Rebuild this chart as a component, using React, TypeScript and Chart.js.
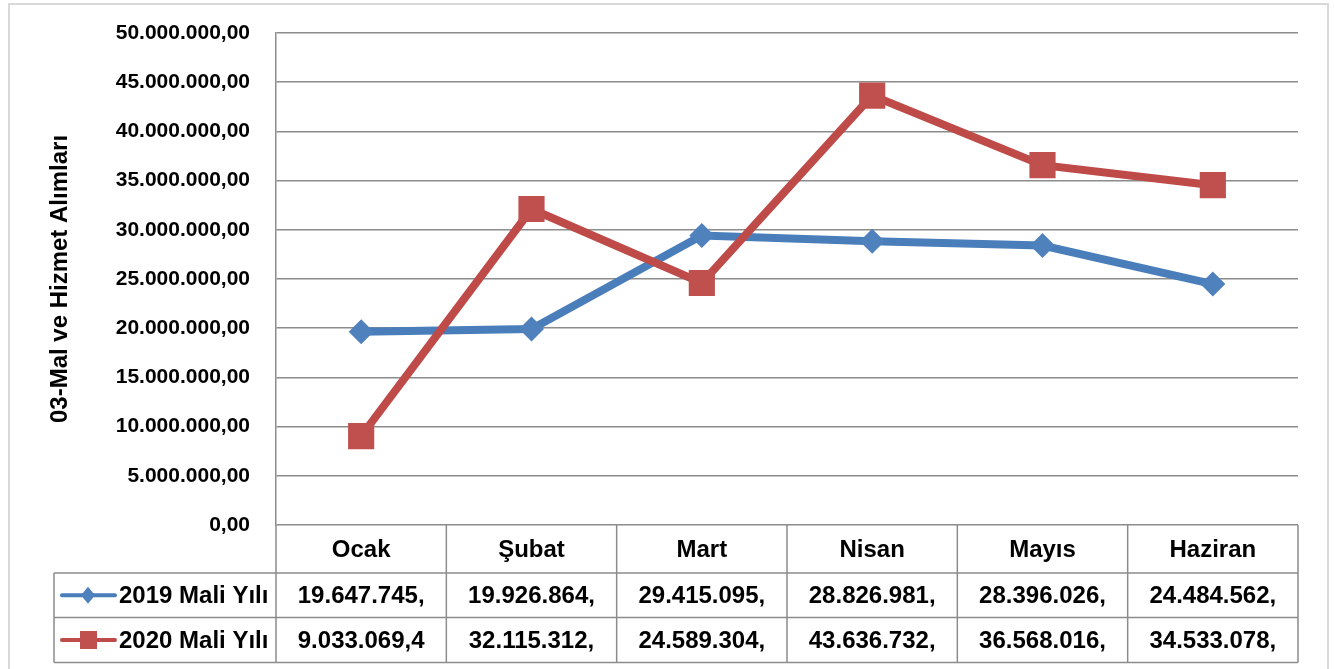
import React, { useEffect, useRef } from "react";
import { Chart, registerables } from "chart.js";

Chart.register(...registerables);

const categories = ["Ocak", "Şubat", "Mart", "Nisan", "Mayıs", "Haziran"];
const series2019Name = "2019 Mali Yılı";
const series2020Name = "2020 Mali Yılı";
const values2019 = [19647745, 19926864, 29415095, 28826981, 28396026, 24484562];
const values2020 = [9033069.4, 32115312, 24589304, 43636732, 36568016, 34533078];
const table2019 = ["19.647.745,", "19.926.864,", "29.415.095,", "28.826.981,", "28.396.026,", "24.484.562,"];
const table2020 = ["9.033.069,4", "32.115.312,", "24.589.304,", "43.636.732,", "36.568.016,", "34.533.078,"];
const yTitle = "03-Mal ve Hizmet Alımları";
const yMin = 0;
const yMax = 50000000;
const yStep = 5000000;

const BLUE = "#4A7EBB";
const BLUE_M = "#4F81BD";
const RED = "#BE4B48";
const RED_M = "#C0504D";
const GRID = "#8C8C8C";
const FONT = "'Liberation Sans', Arial, sans-serif";

function formatTick(v: number): string {
  const s = Math.round(v).toString().replace(/\B(?=(\d{3})+(?!\d))/g, ".");
  return s + ",00";
}

const tablePlugin = {
  id: "dataTable",
  afterDraw(chart: any) {
    const ctx = chart.ctx as CanvasRenderingContext2D;
    const area = chart.chartArea;
    const xs = chart.scales.x;
    const n = categories.length;
    const colW = (area.right - area.left) / n;
    const headTop = area.bottom;
    const headBot = headTop + 48;
    const row1Bot = headBot + 44.5;
    const row2Bot = row1Bot + 45;
    const legLeft = 54;

    ctx.save();
    ctx.strokeStyle = GRID;
    ctx.lineWidth = 1.5;
    ctx.beginPath();
    [headBot, row1Bot, row2Bot].forEach((y) => {
      ctx.moveTo(legLeft, y);
      ctx.lineTo(area.right, y);
    });
    for (let i = 0; i <= n; i++) {
      const x = area.left + i * colW;
      ctx.moveTo(x, headTop);
      ctx.lineTo(x, row2Bot);
    }
    ctx.moveTo(legLeft, headBot);
    ctx.lineTo(legLeft, row2Bot);
    ctx.stroke();

    ctx.fillStyle = "#000";
    ctx.font = "bold 24px " + FONT;
    ctx.textAlign = "center";
    ctx.textBaseline = "middle";
    for (let i = 0; i < n; i++) {
      const cx = xs.getPixelForValue(i);
      ctx.fillText(categories[i], cx, (headTop + headBot) / 2 + 1);
      ctx.fillText(table2019[i], cx, (headBot + row1Bot) / 2 + 1);
      ctx.fillText(table2020[i], cx, (row1Bot + row2Bot) / 2 + 1);
    }

    const y1 = (headBot + row1Bot) / 2;
    const y2 = (row1Bot + row2Bot) / 2;
    ctx.lineWidth = 4;
    ctx.lineCap = "round";
    ctx.strokeStyle = BLUE;
    ctx.beginPath();
    ctx.moveTo(62, y1);
    ctx.lineTo(115, y1);
    ctx.stroke();
    ctx.fillStyle = BLUE_M;
    ctx.beginPath();
    ctx.moveTo(88, y1 - 8.5);
    ctx.lineTo(95, y1);
    ctx.lineTo(88, y1 + 8.5);
    ctx.lineTo(81, y1);
    ctx.closePath();
    ctx.fill();

    ctx.strokeStyle = RED;
    ctx.beginPath();
    ctx.moveTo(62, y2);
    ctx.lineTo(115, y2);
    ctx.stroke();
    ctx.fillStyle = RED_M;
    ctx.fillRect(80, y2 - 9, 17, 18);

    ctx.fillStyle = "#000";
    ctx.textAlign = "left";
    ctx.fillText(series2019Name, 119, y1 + 1);
    ctx.fillText(series2020Name, 119, y2 + 1);

    ctx.strokeStyle = "#D9D9D9";
    ctx.lineWidth = 2;
    ctx.strokeRect(9, 4, 1319, 670);
    ctx.restore();
  },
};

export default function App() {
  const ref = useRef<HTMLCanvasElement>(null);
  useEffect(() => {
    if (!ref.current) return;
    const chart = new Chart(ref.current, {
      type: "line",
      data: {
        labels: categories,
        datasets: [
          {
            label: series2019Name,
            data: values2019,
            borderColor: BLUE,
            backgroundColor: BLUE_M,
            borderWidth: 8,
            pointStyle: "rectRot",
            pointRadius: 12.5,
            pointBackgroundColor: BLUE_M,
            pointBorderColor: BLUE_M,
            pointBorderWidth: 0,
            tension: 0,
            order: 1,
          },
          {
            label: series2020Name,
            data: values2020,
            borderColor: RED,
            backgroundColor: RED_M,
            borderWidth: 8,
            pointStyle: "rect",
            pointRadius: 18.5,
            pointBackgroundColor: RED_M,
            pointBorderColor: RED_M,
            pointBorderWidth: 0,
            tension: 0,
            order: 0,
          },
        ],
      },
      options: {
        responsive: false,
        animation: false,
        devicePixelRatio: 1,
        layout: { padding: { left: 0, top: 33, right: 37, bottom: 144 } },
        plugins: { legend: { display: false }, tooltip: { enabled: false } },
        scales: {
          x: {
            type: "category",
            offset: true,
            display: false,
          },
          y: {
            min: yMin,
            max: yMax,
            afterFit(scale: any) {
              scale.width = 276;
            },
            ticks: {
              stepSize: yStep,
              padding: 0,
              color: "#000",
              font: { family: FONT, size: 21, weight: "bold" },
              callback: (v: any) => formatTick(Number(v)),
            },
            grid: {
              color: GRID,
              lineWidth: 1.5,
              drawTicks: true,
              tickLength: 26,
              tickColor: "rgba(0,0,0,0)",
            },
            border: { display: true, color: GRID, width: 1.5 },
            title: {
              display: true,
              text: yTitle,
              color: "#000",
              font: { family: FONT, size: 24, weight: "bold" },
              padding: { top: 46, bottom: 0 },
            },
          },
        },
      },
      plugins: [tablePlugin],
    });
    return () => chart.destroy();
  }, []);
  return (
    <div style={{ position: "absolute", left: 0, top: 0, width: 1335, height: 669, background: "#fff" }}>
      <canvas ref={ref} width={1335} height={669} style={{ display: "block" }} />
    </div>
  );
}
